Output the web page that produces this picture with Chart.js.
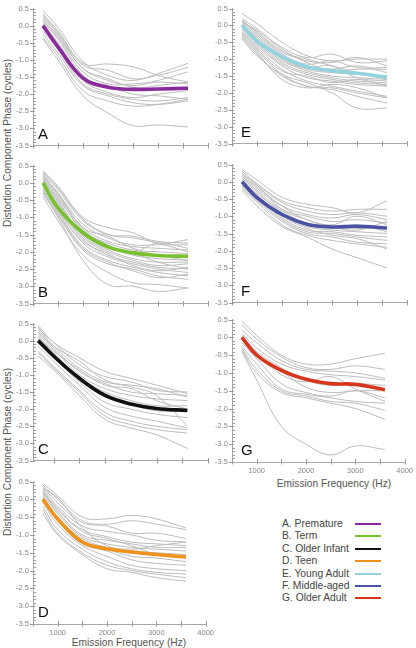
<!DOCTYPE html>
<html>
<head>
<meta charset="utf-8">
<script src="https://cdn.jsdelivr.net/npm/chart.js@4.4.1/dist/chart.umd.min.js"></script>
<style>
  body { margin: 0; width: 416px; height: 648px; overflow: hidden; background: #fff; position: relative;
         font-family: "Liberation Sans", Arial, sans-serif; }
  canvas { position: absolute; }
  .ytitle { position: absolute; white-space: nowrap; font-size: 10.2px; color: #555;
            transform: translate(-50%, -50%) rotate(-90deg); }
  .xtitle { position: absolute; white-space: nowrap; font-size: 10.2px; color: #555;
            transform: translate(-50%, -50%); }
  .leg { position: absolute; left: 282px; font-size: 10.3px; line-height: 12px; color: #444; white-space: nowrap; }
  .sw { position: absolute; left: 355px; width: 26px; height: 2px; }
</style>
</head>
<body>
<div class="ytitle" style="left:7px; top:143px;">Distortion Component Phase (cycles)</div>
<div class="ytitle" style="left:7px; top:452px;">Distortion Component Phase (cycles)</div>
<div class="xtitle" style="left:334px; top:483px;">Emission Frequency (Hz)</div>
<div class="xtitle" style="left:129px; top:642px;">Emission Frequency (Hz)</div>
<div id="legend"></div>

<script>
// frequencies (Hz) where every curve is sampled
const FREQ = [700, 1000, 1500, 2000, 2500, 3000, 3600];
const Y_TICKS = [0.5, 0, -0.5, -1, -1.5, -2, -2.5, -3, -3.5];
const X_TICKS = [1000, 2000, 3000, 4000];

const GROUPS = ['A. Premature', 'B. Term', 'C. Older Infant', 'D. Teen', 'E. Young Adult', 'F. Middle-aged', 'G. Older Adult'];
const GROUP_COLORS = ['#8a2b9c', '#79c12e', '#111111', '#f0921c', '#92d3df', '#4a53a3', '#d6351e'];

// group means (thick coloured lines)
const MEAN_A = [0.0, -0.62, -1.53, -1.8, -1.86, -1.85, -1.83];
const MEAN_B = [0.0, -0.73, -1.45, -1.86, -2.03, -2.11, -2.13];
const MEAN_C = [0.0, -0.45, -1.1, -1.6, -1.85, -1.98, -2.04];
const MEAN_D = [0.0, -0.55, -1.2, -1.39, -1.48, -1.55, -1.62];
const MEAN_E = [0.0, -0.47, -0.93, -1.23, -1.34, -1.42, -1.54];
const MEAN_F = [0.0, -0.46, -0.95, -1.23, -1.31, -1.29, -1.34];
const MEAN_G = [0.0, -0.5, -0.93, -1.18, -1.3, -1.32, -1.47];

// individual subjects (thin grey lines)
const SUBJ_A = [
  [0.45, -0.05, -1.05, -1.45, -1.6, -1.4, -1.1],
  [0.35, -0.15, -1.1, -1.12, -1.2, -1.45, -1.65],
  [0.3, -0.2, -1.15, -1.3, -1.55, -1.45, -1.22],
  [0.2, -0.3, -1.25, -1.6, -1.75, -1.6, -1.35],
  [0.15, -0.35, -1.35, -1.7, -1.7, -1.65, -1.7],
  [0.1, -0.4, -1.45, -1.8, -1.85, -1.75, -1.65],
  [0.05, -0.5, -1.5, -1.75, -2.0, -2.05, -2.15],
  [-0.05, -0.6, -1.6, -1.95, -2.1, -2.0, -1.9],
  [-0.15, -0.7, -1.7, -2.0, -2.15, -2.2, -2.1],
  [-0.25, -0.8, -1.75, -2.05, -2.25, -2.3, -2.2],
  [-0.35, -0.9, -1.9, -2.2, -2.35, -2.3, -2.15],
  [-0.4, -1.0, -2.05, -2.55, -2.92, -2.9, -2.96],
  [0.25, -0.25, -1.25, -1.55, -1.8, -1.85, -1.85]
];
const SUBJ_B = [
  [0.35, -0.1, -1.0, -1.3, -1.45, -1.75, -1.65],
  [0.3, -0.2, -1.1, -1.5, -1.55, -1.7, -1.75],
  [0.25, -0.3, -1.2, -1.6, -1.8, -1.8, -1.8],
  [0.2, -0.35, -1.3, -1.7, -1.85, -1.9, -1.95],
  [0.15, -0.4, -1.4, -1.75, -1.95, -2.0, -2.05],
  [0.1, -0.5, -1.5, -1.85, -2.1, -2.2, -2.25],
  [0.05, -0.55, -1.55, -1.95, -2.2, -2.3, -2.3],
  [0.0, -0.65, -1.6, -2.0, -2.25, -2.4, -2.35],
  [-0.05, -0.7, -1.65, -2.1, -2.3, -2.45, -2.5],
  [-0.1, -0.75, -1.75, -2.15, -2.35, -2.5, -2.6],
  [-0.2, -0.85, -1.85, -2.25, -2.45, -2.6, -2.7],
  [-0.3, -0.95, -1.95, -2.35, -2.5, -2.7, -2.8],
  [-0.4, -1.1, -2.1, -2.6, -2.9, -2.95, -3.05],
  [-0.3, -1.0, -2.25, -2.95, -3.0, -3.15, -3.05],
  [0.2, -0.3, -1.3, -1.55, -1.9, -2.1, -2.25],
  [0.1, -0.45, -1.35, -1.8, -2.0, -1.75, -1.9],
  [0.0, -0.6, -1.5, -1.9, -2.05, -2.3, -2.5],
  [-0.15, -0.8, -1.7, -2.05, -2.4, -2.55, -2.45],
  [-0.25, -0.9, -1.9, -2.3, -2.55, -2.75, -2.65],
  [0.3, -0.15, -1.05, -1.5, -1.6, -1.75, -2.0]
];
const SUBJ_C = [
  [0.45, -0.05, -0.5, -0.9, -1.1, -1.3, -1.55],
  [0.35, -0.05, -0.7, -1.05, -1.2, -1.45, -1.5],
  [0.3, -0.15, -0.8, -1.2, -1.3, -1.4, -1.65],
  [0.25, -0.2, -0.9, -1.25, -1.5, -1.55, -1.6],
  [0.2, -0.25, -1.0, -1.4, -1.6, -1.7, -1.75],
  [0.1, -0.35, -1.05, -1.5, -1.75, -1.9, -1.9],
  [0.05, -0.4, -1.1, -1.55, -1.85, -2.05, -2.05],
  [-0.05, -0.5, -1.2, -1.8, -2.0, -2.15, -2.25],
  [-0.15, -0.6, -1.3, -1.95, -2.2, -2.35, -2.55],
  [-0.3, -0.75, -1.45, -2.1, -2.35, -2.5, -2.6],
  [-0.35, -0.8, -1.5, -2.2, -2.45, -2.6, -2.7],
  [-0.45, -0.85, -1.6, -2.3, -2.55, -2.75, -3.15],
  [0.4, -0.15, -0.6, -1.15, -1.35, -1.6, -2.5],
  [0.15, -0.3, -0.85, -1.3, -1.4, -1.75, -2.0]
];
const SUBJ_D = [
  [0.45, 0.1, -0.5, -0.55, -0.45, -0.55, -0.8],
  [0.4, 0.0, -0.6, -0.7, -0.6, -0.7, -0.85],
  [0.35, -0.1, -0.65, -0.75, -0.95, -0.95, -1.1],
  [0.3, -0.2, -0.75, -0.9, -1.0, -1.15, -1.2],
  [0.25, -0.3, -0.85, -1.05, -1.2, -1.25, -1.3],
  [0.2, -0.35, -1.0, -1.15, -1.25, -1.35, -1.35],
  [0.15, -0.4, -1.05, -1.25, -1.35, -1.4, -1.45],
  [0.1, -0.5, -1.1, -1.35, -1.45, -1.5, -1.55],
  [0.05, -0.55, -1.15, -1.4, -1.6, -1.65, -1.75],
  [0.0, -0.6, -1.25, -1.45, -1.7, -1.8, -1.85],
  [-0.1, -0.7, -1.3, -1.6, -1.85, -1.95, -2.0],
  [-0.2, -0.85, -1.4, -1.75, -1.95, -2.05, -2.1],
  [-0.3, -0.95, -1.5, -1.85, -2.0, -2.1, -2.2],
  [-0.4, -1.0, -1.55, -1.95, -2.05, -2.2, -2.3],
  [0.3, 0.05, -0.8, -1.3, -1.4, -1.3, -1.2],
  [0.2, -0.25, -0.9, -1.1, -1.3, -1.55, -1.65]
];
const SUBJ_E = [
  [0.35, 0.05, -0.5, -0.9, -1.05, -1.0, -1.0],
  [0.2, -0.1, -0.65, -0.95, -0.85, -1.1, -1.05],
  [0.15, -0.2, -0.75, -1.05, -1.1, -0.95, -1.2],
  [0.1, -0.25, -0.85, -1.15, -1.05, -1.25, -1.25],
  [0.05, -0.3, -0.9, -1.2, -1.3, -1.2, -1.4],
  [0.0, -0.35, -0.95, -1.3, -1.4, -1.45, -1.5],
  [-0.05, -0.45, -1.0, -1.35, -1.5, -1.55, -1.6],
  [-0.1, -0.5, -1.1, -1.4, -1.55, -1.65, -1.7],
  [-0.15, -0.55, -1.15, -1.45, -1.6, -1.7, -1.75],
  [-0.2, -0.6, -1.2, -1.55, -1.65, -1.75, -1.8],
  [-0.25, -0.65, -1.3, -1.65, -1.8, -1.95, -2.1],
  [-0.3, -0.75, -1.45, -1.8, -1.85, -2.0, -2.15],
  [-0.35, -0.85, -1.5, -1.8, -1.9, -2.1, -2.3],
  [-0.4, -0.9, -1.45, -1.7, -2.0, -2.45, -2.45],
  [0.1, -0.15, -0.7, -1.1, -1.35, -1.3, -1.3],
  [0.0, -0.4, -1.05, -1.25, -1.2, -1.55, -1.65],
  [-0.2, -0.7, -1.35, -1.5, -1.7, -1.6, -1.8],
  [0.15, -0.2, -0.8, -1.0, -1.2, -1.4, -1.6],
  [-0.3, -0.8, -1.6, -1.85, -1.75, -1.85, -2.15]
];
const SUBJ_F = [
  [0.35, 0.05, -0.45, -0.65, -0.75, -0.9, -0.55],
  [0.3, -0.05, -0.55, -0.75, -0.85, -0.8, -0.8],
  [0.2, -0.1, -0.6, -0.85, -0.95, -0.9, -1.0],
  [0.15, -0.2, -0.7, -0.95, -1.05, -0.95, -1.1],
  [0.1, -0.25, -0.8, -1.0, -1.15, -1.1, -1.2],
  [0.05, -0.3, -0.9, -1.2, -1.3, -1.35, -1.35],
  [0.0, -0.4, -0.95, -1.3, -1.4, -1.45, -1.5],
  [-0.05, -0.45, -1.05, -1.4, -1.45, -1.55, -1.6],
  [-0.1, -0.5, -1.1, -1.45, -1.5, -1.6, -1.7],
  [-0.15, -0.55, -1.15, -1.5, -1.6, -1.75, -1.8],
  [-0.2, -0.6, -1.25, -1.55, -1.7, -1.8, -1.9],
  [-0.25, -0.7, -1.3, -1.6, -1.95, -2.2, -2.5],
  [0.25, -0.1, -0.8, -1.1, -1.3, -1.4, -1.15],
  [0.0, -0.35, -0.85, -1.2, -1.35, -1.25, -1.45],
  [-0.1, -0.45, -1.0, -1.35, -1.55, -1.65, -1.95],
  [0.15, -0.15, -0.7, -1.1, -1.25, -1.0, -1.25]
];
const SUBJ_G = [
  [0.45, 0.05, -0.5, -0.75, -0.75, -0.6, -0.45],
  [0.35, -0.05, -0.55, -0.85, -0.9, -0.8, -0.9],
  [0.2, -0.15, -0.65, -0.9, -0.95, -1.0, -1.15],
  [0.1, -0.3, -0.75, -0.95, -1.05, -1.1, -1.2],
  [0.05, -0.4, -0.85, -1.2, -1.35, -1.3, -1.35],
  [-0.05, -0.5, -0.95, -1.4, -1.55, -1.5, -1.5],
  [-0.15, -0.6, -1.3, -1.55, -1.65, -1.5, -1.7],
  [-0.25, -0.75, -1.45, -1.6, -1.7, -1.8, -1.85],
  [-0.3, -0.9, -1.5, -1.65, -1.8, -1.85, -2.05],
  [-0.35, -1.0, -1.55, -1.7, -1.85, -2.0, -2.3],
  [-0.4, -1.2, -2.5, -3.0, -3.3, -3.05, -3.15],
  [0.0, -0.45, -1.05, -1.25, -1.1, -1.45, -1.8]
];

// page layout of the seven panels
const COLS = [
  { cx: 0, axis: 33, right: 208, dx: 5 },
  { cx: 205, axis: 232, right: 407, dx: 9 }
];
const PANELS = [
  { letter: 'A', mean: MEAN_A, subj: SUBJ_A, g: 0, col: 0, top: 5, bottom: 149, xmin: 500, labels: false },
  { letter: 'B', mean: MEAN_B, subj: SUBJ_B, g: 1, col: 0, top: 162, bottom: 307, xmin: 500, labels: false },
  { letter: 'C', mean: MEAN_C, subj: SUBJ_C, g: 2, col: 0, top: 320, bottom: 464, xmin: 600, labels: false },
  { letter: 'D', mean: MEAN_D, subj: SUBJ_D, g: 3, col: 0, top: 478, bottom: 624, xmin: 500, labels: true },
  { letter: 'E', mean: MEAN_E, subj: SUBJ_E, g: 4, col: 1, top: 5, bottom: 147, xmin: 500, labels: false },
  { letter: 'F', mean: MEAN_F, subj: SUBJ_F, g: 5, col: 1, top: 161, bottom: 306, xmin: 500, labels: false },
  { letter: 'G', mean: MEAN_G, subj: SUBJ_G, g: 6, col: 1, top: 316, bottom: 462, xmin: 500, labels: true }
];

Chart.defaults.font.family = '"Liberation Sans", Arial, sans-serif';

// minor/major tick marks + panel letter
const panelDecor = {
  id: 'panelDecor',
  afterDraw(chart, args, opts) {
    const { ctx, chartArea } = chart;
    const x = chart.scales.x, y = chart.scales.y;
    ctx.save();
    ctx.strokeStyle = '#9c9c9c';
    ctx.lineWidth = 1;
    ctx.beginPath();
    const x0 = Math.round(chartArea.left) + 0.5;
    for (let i = -35; i <= 5; i++) {
      const py = Math.round(y.getPixelForValue(i / 10)) + 0.5;
      if (i % 5 === 0) { ctx.moveTo(x0 - 3.5, py); ctx.lineTo(x0 + 1.5, py); }
      else { ctx.moveTo(x0, py); ctx.lineTo(x0 + 2.5, py); }
    }
    const y0 = Math.round(chartArea.bottom) + 0.5;
    for (let f = Math.ceil(x.min / 500) * 500; f <= x.max; f += 500) {
      const px = Math.round(x.getPixelForValue(f)) + 0.5;
      ctx.moveTo(px, y0 - 3.5); ctx.lineTo(px, y0 + 2);
    }
    ctx.stroke();
    ctx.fillStyle = '#111';
    ctx.font = '15px "Liberation Sans", Arial, sans-serif';
    ctx.textBaseline = 'alphabetic';
    ctx.fillText(opts.letter, chartArea.left + opts.dx, chartArea.bottom - 7);
    ctx.restore();
  }
};

const toPts = vals => FREQ.map((f, i) => ({ x: f, y: vals[i] }));

PANELS.forEach(p => {
  const c = COLS[p.col];
  const xH = p.labels ? 16 : 5;
  const cy = p.top - 5;
  const W = c.right + 10 - c.cx;
  const H = p.bottom - cy + xH;
  const cv = document.createElement('canvas');
  cv.width = W; cv.height = H;
  cv.style.left = c.cx + 'px'; cv.style.top = cy + 'px';
  cv.style.width = W + 'px'; cv.style.height = H + 'px';
  document.body.appendChild(cv);

  const datasets = [{
    data: toPts(p.mean), borderColor: GROUP_COLORS[p.g], borderWidth: 3.6
  }].concat(p.subj.map(s => ({ data: toPts(s), borderColor: '#bcbcbc', borderWidth: 1 })));

  new Chart(cv.getContext('2d'), {
    type: 'line',
    data: { datasets: datasets },
    options: {
      responsive: false,
      animation: false,
      events: [],
      datasets: { line: { pointRadius: 0, tension: 0.4, fill: false } },
      layout: { padding: { top: 5, right: 10, left: 0, bottom: 0 } },
      plugins: {
        legend: { display: false },
        tooltip: { enabled: false },
        panelDecor: { letter: p.letter, dx: c.dx }
      },
      scales: {
        x: {
          type: 'linear', min: p.xmin, max: 4000,
          afterBuildTicks: s => { s.ticks = X_TICKS.map(v => ({ value: v })); },
          afterFit: s => { s.height = xH; },
          grid: { display: false, drawTicks: false },
          border: { color: '#a8a8a8', width: 1 },
          ticks: {
            display: p.labels, padding: 4, color: '#888', autoSkip: false, maxRotation: 0,
            font: { size: 7.5 },
            callback: v => String(v)
          }
        },
        y: {
          type: 'linear', min: -3.5, max: 0.5,
          afterBuildTicks: s => { s.ticks = Y_TICKS.map(v => ({ value: v })); },
          afterFit: s => { s.width = c.axis - c.cx; },
          grid: { display: false, drawTicks: false },
          border: { color: '#a8a8a8', width: 1 },
          ticks: {
            padding: 4, color: '#888', autoSkip: false,
            font: { size: 7.5 },
            callback: v => Number(v).toFixed(1)
          }
        }
      }
    },
    plugins: [panelDecor]
  });
});

// legend
const legendTop = 524;
const leg = document.getElementById('legend');
GROUPS.forEach((name, i) => {
  const cyRow = legendTop + i * 12.4;
  const t = document.createElement('div');
  t.className = 'leg';
  t.style.top = (cyRow - 6) + 'px';
  t.textContent = name;
  leg.appendChild(t);
  const s = document.createElement('div');
  s.className = 'sw';
  s.style.top = (cyRow - 1) + 'px';
  s.style.background = GROUP_COLORS[i];
  leg.appendChild(s);
});
</script>
</body>
</html>
